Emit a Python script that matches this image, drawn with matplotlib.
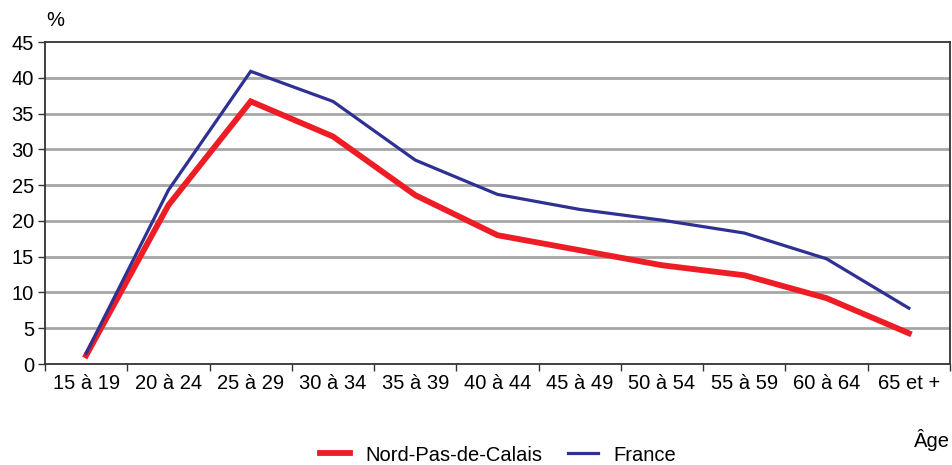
import matplotlib
matplotlib.use("Agg")
import matplotlib.pyplot as plt
from matplotlib.ticker import FixedLocator, NullFormatter, FixedFormatter

plt.rcParams['font.family'] = ['Liberation Sans', 'DejaVu Sans']

categories = ["15 à 19", "20 à 24", "25 à 29", "30 à 34", "35 à 39", "40 à 44",
              "45 à 49", "50 à 54", "55 à 59", "60 à 64", "65 et +"]
nord = [1.2, 22.2, 36.7, 31.8, 23.6, 18.0, 15.9, 13.8, 12.4, 9.2, 4.3]
france = [1.5, 24.3, 40.9, 36.7, 28.5, 23.7, 21.6, 20.1, 18.3, 14.7, 7.8]
yticks = [0, 5, 10, 15, 20, 25, 30, 35, 40, 45]

FS = 14.5

fig = plt.figure(figsize=(9.52, 4.65), dpi=100)
ax = fig.add_axes([45/952, 1-364/465, (950-45)/952, (364-42)/465])

x = list(range(len(categories)))
ax.plot(x, nord, color='#ee1c25', lw=4.2, solid_joinstyle='miter', label='Nord-Pas-de-Calais', zorder=3)
ax.plot(x, france, color='#2e3192', lw=2.3, solid_joinstyle='miter', label='France', zorder=4)

ax.set_xlim(-0.5, len(categories) - 0.5)
ax.set_ylim(0, 45)
ax.set_yticks(yticks)
ax.set_yticklabels([str(v) for v in yticks], fontsize=FS)
for v in yticks[1:-1]:
    ax.axhline(v, color='#a6a6a6', lw=2, zorder=1)

ax.xaxis.set_major_locator(FixedLocator([i - 0.5 for i in range(len(categories) + 1)]))
ax.xaxis.set_major_formatter(NullFormatter())
ax.xaxis.set_minor_locator(FixedLocator(x))
ax.xaxis.set_minor_formatter(FixedFormatter(categories))
ax.tick_params(axis='x', which='minor', length=0, labelsize=FS, pad=7)
ax.tick_params(axis='x', which='major', length=5, width=1, direction='out', color='#333333')
ax.tick_params(axis='y', length=5, width=1, direction='out', color='#333333', pad=3)

for s in ax.spines.values():
    s.set_color('#333333')
    s.set_linewidth(1.3)

fig.text(55/952, 1-20/465, '%', fontsize=FS, ha='center', va='center')
fig.text(950/952, 1-440/465, 'Âge', fontsize=FS, ha='right', va='center')

fig.legend(loc='center', bbox_to_anchor=(498/952, 1-455/465), ncol=2, frameon=False,
           fontsize=FS, handlelength=1.5, columnspacing=1.3, handletextpad=0.75,
           borderpad=0.1)

fig.savefig('out.png', dpi=100)
